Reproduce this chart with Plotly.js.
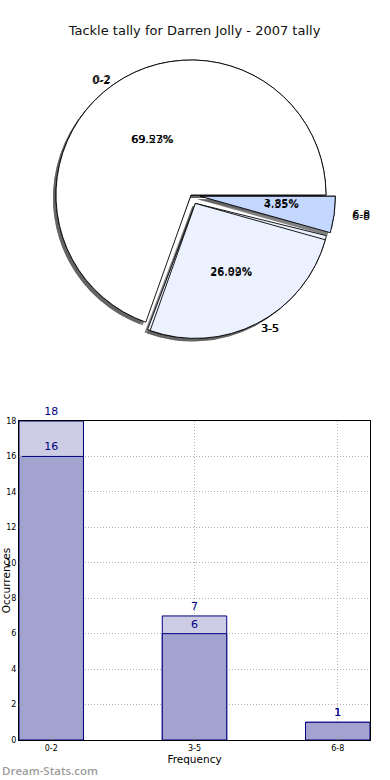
<!DOCTYPE html>
<html>
<head>
<meta charset="utf-8">
<script src="https://cdn.plot.ly/plotly-3.0.1.min.js"></script>
<style>html,body{margin:0;padding:0;background:#fff;}#chart{width:390px;height:780px;}</style>
</head>
<body>
<div id="chart"></div>
<script>
var categories = ['0-2', '3-5', '6-8'];
var tallyA = [16, 6, 1];
var tallyB = [18, 7, 1];
var sliceColors = ['#ffffff', '#ebf1fe', '#c4d8ff'];
var pulls = [0, 0.07, 0.07];
var titleText = 'Tackle tally for Darren Jolly - 2007 tally';

var W = 390, H = 780, mL = 19, mR = 20, mT = 10, mB = 40;
var pw = W - mL - mR, ph = H - mT - mB;
var cx = 191, cy = 195, R = 135;
var maxPull = Math.max.apply(null, pulls);

// domain for a pie of radius r (pulls scaled so that the pixel pull stays the same)
function dom(r, dx, dy) {
  var half = r * (1 + maxPull * R / r);
  return {
    x: [(cx - half - mL + dx) / pw, (cx + half - mL + dx) / pw],
    y: [(H - mB - (cy + half) - dy) / ph, (H - mB - (cy - half) - dy) / ph]
  };
}
function scaledPulls(r) { return pulls.map(function (p) { return p * R / r; }); }
function startRot(v) {
  var s = v.reduce(function (a, b) { return a + b; }, 0);
  return 90 - 360 * v[0] / s;
}
var font = 'DejaVu Sans, Liberation Sans, sans-serif';
var clear = ['rgba(0,0,0,0)', 'rgba(0,0,0,0)', 'rgba(0,0,0,0)'];
function pie(vals, r, dx, dy, extra) {
  return Object.assign({
    type: 'pie', labels: categories, values: vals, sort: false, direction: 'counterclockwise',
    rotation: startRot(vals), pull: scaledPulls(r), domain: dom(r, dx, dy),
    hoverinfo: 'skip', showlegend: false, textfont: {family: font, size: 11, color: '#000'}
  }, extra);
}

var series = [tallyB, tallyA];
var traces = [];
// shadows
series.forEach(function (v) {
  traces.push(pie(v, R, -3, 3, {marker: {colors: ['rgba(90,90,90,0.75)', 'rgba(90,90,90,0.75)', 'rgba(90,90,90,0.75)'], line: {width: 0}}, textinfo: 'none'}));
});
// slices
series.forEach(function (v) {
  traces.push(pie(v, R, 0, 0, {marker: {colors: sliceColors, line: {color: '#000', width: 0.9}}, textinfo: 'none'}));
});
// percentages (large slices) inside
series.forEach(function (v) {
  traces.push(pie(v, R, 0, 0, {marker: {colors: clear, line: {width: 0}},
    textinfo: 'percent', texttemplate: '%{percent:.2%}', textposition: ['inside', 'inside', 'none'],
    insidetextorientation: 'horizontal'}));
});
// percentage for the small slice, placed from a smaller transparent pie
series.forEach(function (v) {
  traces.push(pie(v, 0.45 * R, 0, 0, {marker: {colors: clear, line: {width: 0}},
    textinfo: 'percent', texttemplate: '%{percent:.2%}', textposition: ['none', 'none', 'outside']}));
});
// category labels
series.forEach(function (v) {
  traces.push(pie(v, R, 0, 0, {marker: {colors: clear, line: {width: 0}},
    textinfo: 'label', textposition: ['outside', 'outside', 'none']}));
});
series.forEach(function (v) {
  traces.push(pie(v, 1.11 * R, 0, 0, {marker: {colors: clear, line: {width: 0}},
    textinfo: 'label', textposition: ['none', 'none', 'outside']}));
});

traces.push({type: 'bar', x: categories, y: tallyB, text: tallyB.map(String), textposition: 'outside',
  cliponaxis: false, width: 0.45, marker: {color: '#ccccE5', line: {color: '#000080', width: 1}},
  textfont: {family: font, size: 11, color: '#000080'}, xaxis: 'x', yaxis: 'y', showlegend: false, hoverinfo: 'skip'});
traces.push({type: 'bar', x: categories, y: tallyA, text: tallyA.map(String), textposition: 'outside',
  cliponaxis: false, width: 0.45, marker: {color: '#a3a3cf', line: {color: '#000080', width: 1}},
  textfont: {family: font, size: 11, color: '#000080'}, xaxis: 'x', yaxis: 'y', showlegend: false, hoverinfo: 'skip'});

var layout = {
  width: W, height: H,
  margin: {l: mL, r: mR, t: mT, b: mB},
  paper_bgcolor: '#fff', plot_bgcolor: '#fff',
  font: {family: font, color: '#000'},
  barmode: 'overlay',
  uniformtext: {minsize: 11, mode: 'show'},
  title: {text: titleText, font: {family: font, size: 13, color: '#111'}, x: 0.5, xref: 'paper', y: 1 - 30 / H, yref: 'container', yanchor: 'middle'},
  xaxis: {
    domain: [0, 1], range: [-0.225, 2.225], type: 'category',
    showline: true, linecolor: '#000', linewidth: 1, mirror: true,
    showgrid: true, gridcolor: '#b0b0b0', griddash: '1px,2px', gridwidth: 1,
    ticks: 'inside', ticklen: 3, tickcolor: '#999',
    tickfont: {family: font, size: 8, color: '#000'},
    title: {text: 'Frequency', font: {family: font, size: 10.5, color: '#000'}, standoff: 4},
    zeroline: false, fixedrange: true
  },
  yaxis: {
    domain: [0, (H - mB - 421) / ph], range: [0, 18],
    tickvals: [0, 2, 4, 6, 8, 10, 12, 14, 16, 18],
    showline: true, linecolor: '#000', linewidth: 1, mirror: true,
    showgrid: true, gridcolor: '#b0b0b0', griddash: '1px,2px', gridwidth: 1,
    ticks: 'inside', ticklen: 3, tickcolor: '#999',
    tickfont: {family: font, size: 8, color: '#000'},
    title: {text: 'Occurrences', font: {family: font, size: 10.5, color: '#000'}, standoff: 13},
    zeroline: false, fixedrange: true
  },
  annotations: [{
    text: 'Dream-Stats.com', xref: 'paper', yref: 'paper',
    x: -mL / pw, y: -(770 - (H - mB)) / ph, xanchor: 'left', yanchor: 'middle',
    showarrow: false, font: {family: 'Open Sans, sans-serif', size: 11.5, color: '#9c9c9c', weight: 600}
  }]
};

Plotly.newPlot('chart', traces, layout, {displayModeBar: false, staticPlot: true});
</script>
</body>
</html>
